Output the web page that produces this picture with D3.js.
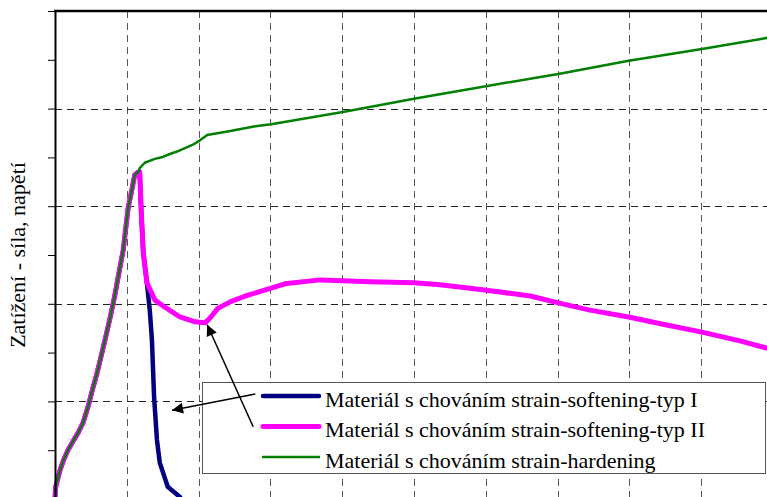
<!DOCTYPE html>
<html>
<head>
<meta charset="utf-8">
<title>Zatížení - strain-softening / strain-hardening</title>
<script src="https://d3js.org/d3.v7.min.js"></script>
<style>
  body { margin: 0; background: #fff; }
  svg text { font-family: "Liberation Serif", "Times New Roman", serif; fill: #000; }
</style>
</head>
<body>
<svg id="chart" width="767" height="497"></svg>
<script>
// shared rising branch (all three materials), data units
const rising = [
  [0.00, 0.04], [0.01, 0.25], [0.07, 0.59], [0.12, 0.80], [0.18, 1.00], [0.25, 1.18],
  [0.32, 1.35], [0.39, 1.56], [0.46, 1.89], [0.52, 2.23], [0.58, 2.55], [0.63, 2.85],
  [0.70, 3.28], [0.77, 3.73], [0.83, 4.15], [0.88, 4.55], [0.95, 5.10], [1.02, 5.98],
  [1.07, 6.33], [1.11, 6.64], [1.16, 6.70]
];

const hardening = [
  [1.18, 6.78], [1.25, 6.89], [1.39, 6.97], [1.50, 7.01], [1.60, 7.07], [1.70, 7.12],
  [1.81, 7.19], [1.92, 7.26], [2.01, 7.34], [2.12, 7.46], [2.44, 7.54], [2.79, 7.64],
  [3.01, 7.68], [4.01, 7.93], [5.00, 8.20], [6.00, 8.46], [7.01, 8.71], [7.99, 8.98],
  [9.01, 9.22], [9.92, 9.45], [10.0, 9.48]
];

const softeningII = [
  [1.18, 6.70], [1.20, 5.92], [1.23, 5.04], [1.28, 4.43], [1.39, 4.08], [1.53, 3.93],
  [1.74, 3.73], [1.95, 3.63], [2.09, 3.61], [2.16, 3.71], [2.27, 3.91], [2.44, 4.04],
  [2.65, 4.16], [3.01, 4.32], [3.20, 4.41], [3.69, 4.49], [4.01, 4.47], [4.39, 4.45],
  [5.00, 4.43], [5.36, 4.39], [5.78, 4.32], [6.20, 4.24], [6.62, 4.16], [7.01, 4.02],
  [7.45, 3.87], [7.99, 3.73], [8.50, 3.57], [9.01, 3.42], [9.54, 3.24], [9.92, 3.09],
  [10.0, 3.06]
];

const softeningI = [
  [1.18, 6.70], [1.20, 5.92], [1.23, 5.04], [1.28, 4.43], [1.32, 3.87], [1.35, 3.26],
  [1.38, 2.09], [1.42, 1.21], [1.46, 0.74], [1.57, 0.25], [1.74, 0.04], [1.80, -0.1]
];

const series = [
  { name: "Materiál s chováním strain-softening-typ I", color: "#000080", width: 4.5, pts: rising.concat(softeningI) },
  { name: "Materiál s chováním strain-softening-typ II", color: "#ff00ff", width: 5, pts: rising.concat(softeningII) },
  { name: "Materiál s chováním strain-hardening", color: "#008000", width: 2.5, pts: rising.concat(hardening) }
];

const xGrid = [1, 2, 3, 4, 5, 6, 7, 8, 9];
const yGrid = [2, 4, 6, 8];
const yTicks = [0, 1, 2, 3, 4, 5, 6, 7, 8, 9, 10];

// arrows: [from, to] in data units
const arrows = [
  [[2.79, 2.15], [1.63, 1.82]],
  [[2.76, 1.48], [2.12, 3.57]]
];

const svg = d3.select('#chart');
const x = d3.scaleLinear().domain([0, 10]).range([55, 773]);
const y = d3.scaleLinear().domain([0, 10]).range([499, 11]);

svg.append('defs').append('marker')
  .attr('id', 'head')
  .attr('viewBox', '0 0 10 10')
  .attr('refX', 10).attr('refY', 5)
  .attr('markerWidth', 15).attr('markerHeight', 11)
  .attr('markerUnits', 'userSpaceOnUse')
  .attr('orient', 'auto')
  .append('path').attr('d', 'M0,0L10,5L0,10z').attr('fill', '#000');

// grid
const grid = svg.append('g').attr('fill', 'none').attr('stroke-width', 1).attr('stroke-dasharray', '7,5');
grid.selectAll('.vg').data(xGrid).join('line')
  .attr('x1', d => Math.round(x(d)) + 0.5).attr('x2', d => Math.round(x(d)) + 0.5)
  .attr('y1', y(10)).attr('y2', y(0))
  .attr('stroke', '#555');
grid.selectAll('.hg').data(yGrid).join('line')
  .attr('x1', x(0)).attr('x2', x(10))
  .attr('y1', d => Math.round(y(d)) + 0.5).attr('y2', d => Math.round(y(d)) + 0.5)
  .attr('stroke', '#222');

// curves
const line = d3.line().x(d => x(d[0])).y(d => y(d[1]));
svg.append('g').selectAll('path').data(series).join('path')
  .attr('d', d => line(d.pts))
  .attr('fill', 'none')
  .attr('stroke', d => d.color)
  .attr('stroke-width', d => d.width)
  .attr('stroke-linejoin', 'round')
  .attr('stroke-linecap', 'round');

// axes / frame
const yAxis = svg.append('g').attr('transform', 'translate(' + x(0) + ',0)')
  .call(d3.axisLeft(y).tickValues(yTicks).tickSize(7).tickSizeOuter(0).tickFormat(''));
yAxis.select('.domain').attr('stroke', '#000').attr('stroke-width', 2);
yAxis.selectAll('.tick line').attr('stroke', '#000');

svg.append('line')
  .attr('x1', x(0) - 1).attr('x2', x(10))
  .attr('y1', y(10)).attr('y2', y(10))
  .attr('stroke', '#000').attr('stroke-width', 2.5);

// y label
svg.append('text')
  .attr('transform', 'translate(25,255) rotate(-90)')
  .attr('text-anchor', 'middle')
  .style('font-size', '22px')
  .text('Zatížení - síla, napětí');

// legend
const lg = svg.append('g');
lg.append('rect')
  .attr('x', 202.5).attr('y', 382.5).attr('width', 563).attr('height', 91)
  .attr('fill', '#fff').attr('stroke', '#555').attr('stroke-width', 1);
const rows = lg.selectAll('.row').data(series).join('g')
  .attr('transform', (d, i) => 'translate(0,' + (396 + i * 30.5) + ')');
rows.append('line')
  .attr('x1', 263).attr('x2', 319).attr('y1', 0).attr('y2', 0)
  .attr('stroke', d => d.color)
  .attr('stroke-width', d => d.width)
  .attr('stroke-linecap', 'round');
rows.append('text')
  .attr('x', 325).attr('y', 10.5)
  .style('font-size', '22px')
  .text(d => d.name);

// arrows
svg.append('g').selectAll('line').data(arrows).join('line')
  .attr('x1', d => x(d[0][0])).attr('y1', d => y(d[0][1]))
  .attr('x2', d => x(d[1][0])).attr('y2', d => y(d[1][1]))
  .attr('stroke', '#000').attr('stroke-width', 1.5)
  .attr('marker-end', 'url(#head)');
</script>
</body>
</html>
